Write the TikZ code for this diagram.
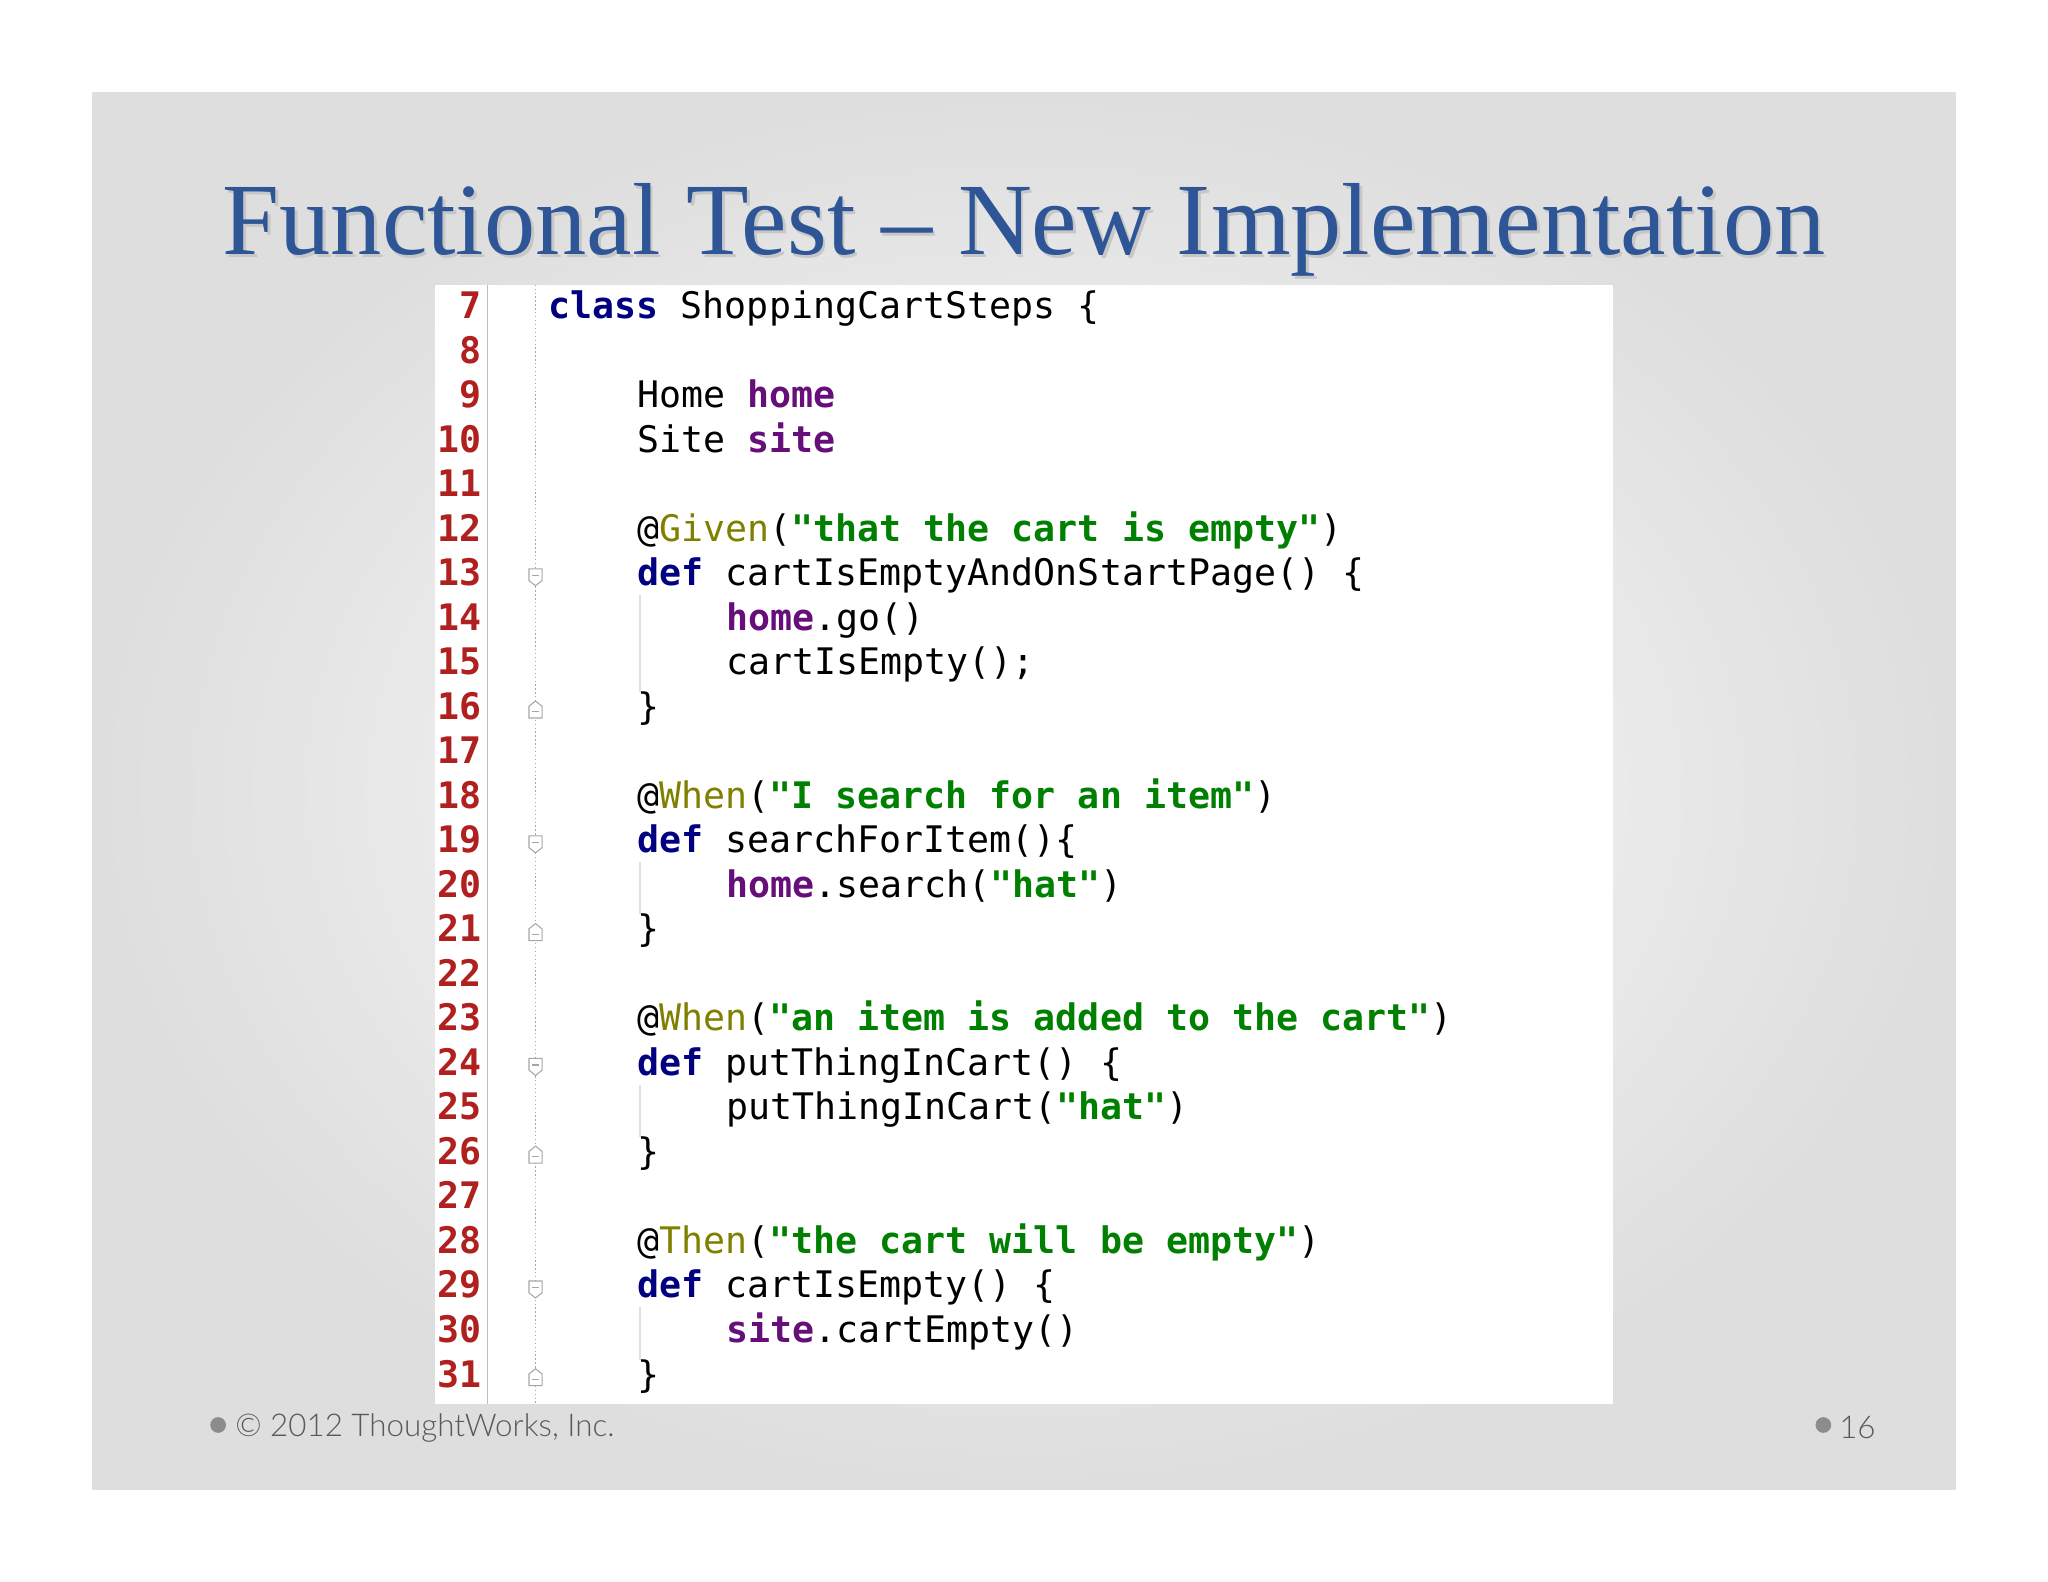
\documentclass[tikz,border=0pt]{standalone}
\usepackage{fontspec}
\setmainfont{Liberation Serif}
\setmonofont{DejaVu Sans Mono}
\newfontfamily\footfont{Lato Light}
\usetikzlibrary{shadings}
\definecolor{titleblue}{HTML}{2E5596}
\definecolor{kwc}{HTML}{000080}
\definecolor{fdc}{HTML}{660E7A}
\definecolor{stc}{HTML}{008000}
\definecolor{anc}{HTML}{808000}
\definecolor{lnc}{HTML}{B0201E}
\newcommand{\kw}[1]{\textbf{\color{kwc}#1}}
\newcommand{\fd}[1]{\textbf{\color{fdc}#1}}
\newcommand{\st}[1]{\textbf{\color{stc}#1}}
\newcommand{\an}[1]{{\color{anc}#1}}
\begin{document}
\begin{tikzpicture}[x=1pt,y=-1pt,
  code/.style={anchor=west,inner sep=0pt,font=\ttfamily\fontsize{28}{28}\selectfont,text height=20pt,text depth=6pt,color=black},
  lnum/.style={anchor=east,inner sep=0pt,font=\ttfamily\bfseries\fontsize{28}{28}\selectfont,text height=20pt,text depth=6pt,color=lnc},
  foldo/.style={draw=gray!70,line width=0.8pt,fill=white},
  foott/.style={anchor=west,inner sep=0pt,font=\footfont\fontsize{24}{24}\selectfont,color=black!65}]
\useasboundingbox (0,0) rectangle (1568,1211);
\fill[white] (0,0) rectangle (1568,1211);
\shade[inner color=white,outer color=black!13] (71,71) rectangle (1497,1140);
% code panel
\fill[white] (333,218) rectangle (1235,1075);
\draw[black!25,line width=0.8pt] (373,218) -- (373,1075);
\draw[black!35,dotted,line width=1pt] (410,218) -- (410,1075);
% title
\node[inner sep=0pt,color=black!22] (titleshadow) at (786,178) {\resizebox{1227pt}{!}{\fontsize{80}{80}\selectfont Functional Test – New Implementation}};
\node[inner sep=0pt,color=titleblue] (title) at (784,176) {\resizebox{1227pt}{!}{\fontsize{80}{80}\selectfont Functional Test – New Implementation}};
% line numbers
\foreach \n in {7,...,31}{
  \node[lnum] (ln\n) at (369,{237+(\n-7)*34.08}) {\n};
}
% fold markers
\foreach \n in {13,19,24,29}{
  \draw[foldo] (405,{237+(\n-7)*34.08-6}) -- (415,{237+(\n-7)*34.08-6}) -- (415,{237+(\n-7)*34.08+3}) -- (410,{237+(\n-7)*34.08+7}) -- (405,{237+(\n-7)*34.08+3}) -- cycle;
  \draw[gray!70,line width=0.8pt] (407,{237+(\n-7)*34.08-1}) -- (413,{237+(\n-7)*34.08-1});
}
\foreach \n in {16,21,26,31}{
  \draw[foldo] (405,{237+(\n-7)*34.08+6}) -- (415,{237+(\n-7)*34.08+6}) -- (415,{237+(\n-7)*34.08-3}) -- (410,{237+(\n-7)*34.08-7}) -- (405,{237+(\n-7)*34.08-3}) -- cycle;
  \draw[gray!70,line width=0.8pt] (407,{237+(\n-7)*34.08+1}) -- (413,{237+(\n-7)*34.08+1});
}
% indent guides
\foreach \a/\b in {13/16,19/21,24/26,29/31}{
  \draw[black!12,line width=0.8pt] (490,{237+(\a-7)*34.08+14}) -- (490,{237+(\b-7)*34.08-14});
}
% code
\def\ly#1{{237+(#1-7)*34.08}}
\node[code] (c7) at (420,\ly{7}) {\kw{class} ShoppingCartSteps \{};
\node[code] (c9) at (488,\ly{9}) {Home \fd{home}};
\node[code] (c10) at (488,\ly{10}) {Site \fd{site}};
\node[code] (c12) at (488,\ly{12}) {@\an{Given}(\st{"that the cart is empty"})};
\node[code] (c13) at (488,\ly{13}) {\kw{def} cartIsEmptyAndOnStartPage() \{};
\node[code] (c14) at (556,\ly{14}) {\fd{home}.go()};
\node[code] (c15) at (556,\ly{15}) {cartIsEmpty();};
\node[code] (c16) at (488,\ly{16}) {\}};
\node[code] (c18) at (488,\ly{18}) {@\an{When}(\st{"I search for an item"})};
\node[code] (c19) at (488,\ly{19}) {\kw{def} searchForItem()\{};
\node[code] (c20) at (556,\ly{20}) {\fd{home}.search(\st{"hat"})};
\node[code] (c21) at (488,\ly{21}) {\}};
\node[code] (c23) at (488,\ly{23}) {@\an{When}(\st{"an item is added to the cart"})};
\node[code] (c24) at (488,\ly{24}) {\kw{def} putThingInCart() \{};
\node[code] (c25) at (556,\ly{25}) {putThingInCart(\st{"hat"})};
\node[code] (c26) at (488,\ly{26}) {\}};
\node[code] (c28) at (488,\ly{28}) {@\an{Then}(\st{"the cart will be empty"})};
\node[code] (c29) at (488,\ly{29}) {\kw{def} cartIsEmpty() \{};
\node[code] (c30) at (556,\ly{30}) {\fd{site}.cartEmpty()};
\node[code] (c31) at (488,\ly{31}) {\}};
% footer
\fill[black!45] (167,1091) circle (6);
\node[foott] (copy) at (180,1093) {© 2012 ThoughtWorks, Inc.};
\fill[black!45] (1396,1091) circle (6);
\node[foott] (page) at (1408,1093) {16};
\end{tikzpicture}
\end{document}
